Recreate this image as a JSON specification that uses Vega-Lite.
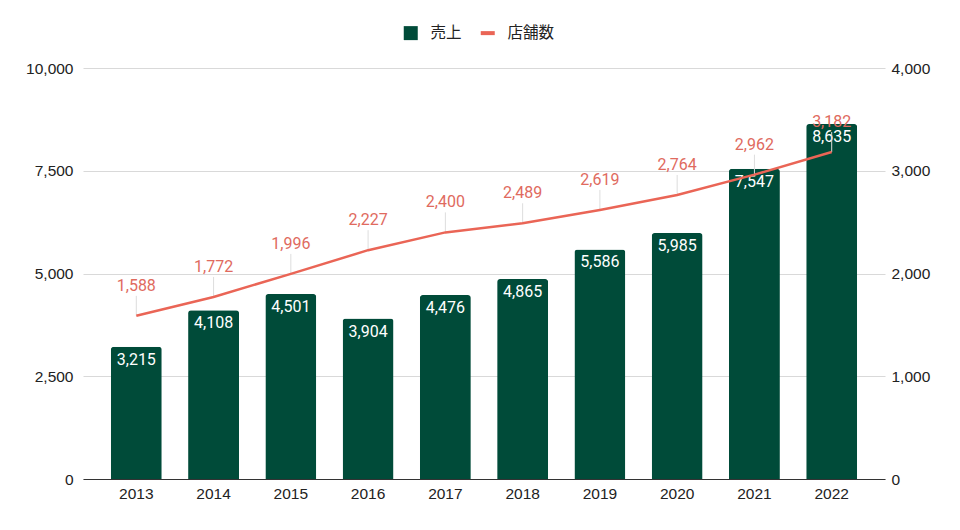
{
  "$schema": "https://vega.github.io/schema/vega-lite/v6.json",
  "description": "売上と店舗数 (2013-2022)",
  "autosize": {"type": "none"},
  "width": 802,
  "height": 411,
  "padding": {"left": 83, "top": 68, "right": 75, "bottom": 51},
  "background": "white",
  "data": {
    "values": [
      {"year": "2013", "sales": 3215, "stores": 1588},
      {"year": "2014", "sales": 4108, "stores": 1772},
      {"year": "2015", "sales": 4501, "stores": 1996},
      {"year": "2016", "sales": 3904, "stores": 2227},
      {"year": "2017", "sales": 4476, "stores": 2400},
      {"year": "2018", "sales": 4865, "stores": 2489},
      {"year": "2019", "sales": 5586, "stores": 2619},
      {"year": "2020", "sales": 5985, "stores": 2764},
      {"year": "2021", "sales": 7547, "stores": 2962},
      {"year": "2022", "sales": 8635, "stores": 3182}
    ]
  },
  "encoding": {
    "x": {
      "field": "year",
      "type": "ordinal",
      "scale": {"paddingInner": 0.34, "paddingOuter": 0.36},
      "axis": {
        "title": null,
        "labelAngle": 0,
        "labelPadding": 7,
        "ticks": false,
        "domainColor": "#333333",
        "domainWidth": 1
      }
    }
  },
  "layer": [
    {
      "encoding": {
        "y": {
          "field": "sales",
          "type": "quantitative",
          "scale": {"domain": [0, 10000], "nice": false},
          "axis": {
            "title": null,
            "orient": "left",
            "values": [0, 2500, 5000, 7500, 10000],
            "labelExpr": "format(datum.value, ',')",
            "labelPadding": 10,
            "ticks": false,
            "domain": false,
            "grid": true,
            "gridColor": "#d9d9d9"
          }
        }
      },
      "layer": [
        {
          "mark": {"type": "bar", "color": "#004b39", "cornerRadiusTopLeft": 3, "cornerRadiusTopRight": 3},
          "encoding": {
            "color": {
              "datum": "売上",
              "type": "nominal",
              "scale": {"domain": ["売上", "店舗数"], "range": ["#004b39", "#ea6556"]},
              "legend": {
                "title": null,
                "orient": "none",
                "direction": "horizontal",
                "legendX": 320,
                "legendY": -43,
                "padding": 0,
                "symbolSize": 196,
                "labelFont": "Noto Sans CJK JP",
                "labelFontSize": 15.5,
                "labelColor": "#222222",
                "labelOffset": 12,
                "columnPadding": 10,
                "encode": {
                  "symbols": {
                    "update": {
                      "shape": {"signal": "datum.value === '店舗数' ? 'stroke' : 'square'"},
                      "strokeWidth": {"signal": "datum.value === '店舗数' ? 4 : 0"},
                      "stroke": {"signal": "datum.value === '店舗数' ? '#ea6556' : '#004b39'"}
                    }
                  }
                }
              }
            }
          }
        },
        {
          "mark": {"type": "text", "color": "white", "font": "Roboto", "fontSize": 16, "baseline": "alphabetic", "dy": 18},
          "encoding": {
            "text": {"field": "sales", "type": "quantitative", "format": ","}
          }
        }
      ]
    },
    {
      "encoding": {
        "y": {
          "field": "stores",
          "type": "quantitative",
          "scale": {"domain": [0, 4000], "nice": false},
          "axis": {
            "title": null,
            "orient": "right",
            "values": [0, 1000, 2000, 3000, 4000],
            "labelExpr": "format(datum.value, ',')",
            "labelPadding": 6,
            "ticks": false,
            "domain": false,
            "grid": false
          }
        }
      },
      "layer": [
        {
          "mark": {"type": "rule", "color": "#dddddd", "strokeWidth": 1, "y2Offset": -20},
          "encoding": {
            "y2": {"field": "stores"}
          }
        },
        {
          "mark": {"type": "line", "strokeWidth": 2.5},
          "encoding": {
            "color": {"datum": "店舗数", "type": "nominal"}
          }
        },
        {
          "mark": {"type": "text", "color": "#e06a5e", "font": "Roboto", "fontSize": 16, "baseline": "alphabetic", "dy": -25},
          "encoding": {
            "text": {"field": "stores", "type": "quantitative", "format": ","}
          }
        }
      ]
    }
  ],
  "resolve": {"scale": {"y": "independent"}},
  "config": {
    "view": {"stroke": null},
    "axis": {
      "labelFont": "Liberation Sans",
      "labelFontSize": 15.5,
      "labelColor": "#222222"
    }
  }
}
